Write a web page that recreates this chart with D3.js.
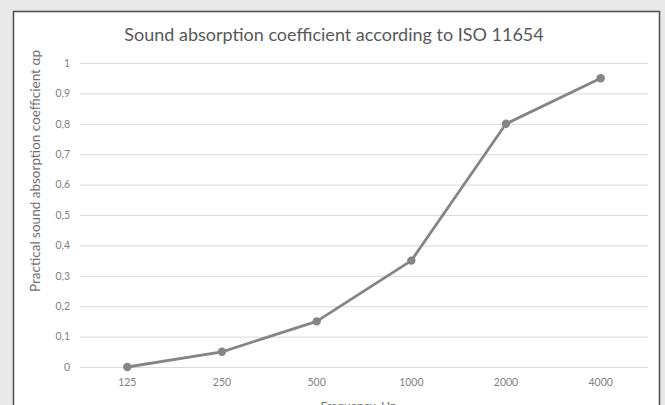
<!DOCTYPE html>
<html>
  <head>
    <meta charset="utf-8">
    <title>Sound absorption coefficient</title>
    <style type="text/css">
      body {
        margin: 0;
        background: #e9e9e9;
        font-family: Lato, "Open Sans", sans-serif;
      }
      svg {
        display: block;
      }
      .axis path {
        display: none;
      }
      .axis text {
        font-size: 10.5px;
        fill: #7f7f7f;
        font-family: Lato, sans-serif;
      }
      .y.axis line {
        stroke: #d9d9d9;
        stroke-width: 1px;
      }
      .x.axis line {
        display: none;
      }
    </style>
  </head>
  <body>
    <script src="https://d3js.org/d3.v7.min.js"></script>
    <script>
    // data
    var frequencies = ["125", "250", "500", "1000", "2000", "4000"];
    var coefficients = [0, 0.05, 0.15, 0.35, 0.8, 0.95];
    var yTicks = [0, 0.1, 0.2, 0.3, 0.4, 0.5, 0.6, 0.7, 0.8, 0.9, 1];

    var W = 665, H = 405;
    var margin = {top: 63, right: 17, bottom: 38, left: 80};
    var width = W - margin.left - margin.right,
        height = H - margin.top - margin.bottom;

    var svg = d3.select("body").append("svg")
        .attr("width", W)
        .attr("height", H);

    // chart box
    svg.append("rect")
        .attr("x", 13.5)
        .attr("y", 11.5)
        .attr("width", 646)
        .attr("height", 410)
        .attr("fill", "#fff")
        .attr("stroke", "#555")
        .attr("stroke-width", 1.6);

    var g = svg.append("g")
        .attr("transform", "translate(" + margin.left + "," + margin.top + ")");

    var x = d3.scaleBand()
        .domain(frequencies)
        .range([0, width]);

    var y = d3.scaleLinear()
        .domain([0, 1])
        .range([height, 0]);

    var fmt = function(d) { return d3.format("")(+d.toFixed(1)).replace(".", ","); };

    g.append("g")
        .attr("class", "y axis")
        .call(d3.axisLeft(y).tickValues(yTicks).tickSize(-width).tickPadding(10).tickFormat(fmt));

    g.append("g")
        .attr("class", "x axis")
        .attr("transform", "translate(0," + height + ")")
        .call(d3.axisBottom(x).tickSize(0).tickPadding(12));

    var line = d3.line()
        .x(function(d, i) { return x(frequencies[i]) + x.bandwidth() / 2; })
        .y(function(d) { return y(d); });

    g.append("path")
        .datum(coefficients)
        .attr("d", line)
        .attr("fill", "none")
        .attr("stroke", "#858585")
        .attr("stroke-width", 2.8)
        .attr("stroke-linejoin", "round");

    g.selectAll("circle.pt")
        .data(coefficients)
      .enter().append("circle")
        .attr("class", "pt")
        .attr("cx", function(d, i) { return x(frequencies[i]) + x.bandwidth() / 2; })
        .attr("cy", function(d) { return y(d); })
        .attr("r", 4.2)
        .attr("fill", "#858585");

    // titles
    svg.append("text")
        .attr("x", 334)
        .attr("y", 41)
        .attr("text-anchor", "middle")
        .style("font-size", "18px")
        .style("fill", "#595959")
        .text("Sound absorption coefficient according to ISO 11654");

    svg.append("text")
        .attr("transform", "translate(40,171) rotate(-90)")
        .attr("text-anchor", "middle")
        .style("font-size", "13.5px")
        .style("fill", "#6f6f6f")
        .text("Practical sound absorption coefficient αp");

    svg.append("text")
        .attr("x", 358)
        .attr("y", 410)
        .attr("text-anchor", "middle")
        .style("font-size", "12px")
        .style("fill", "#6f6f6f")
        .text("Frequency, Hz");
    </script>
  </body>
</html>
